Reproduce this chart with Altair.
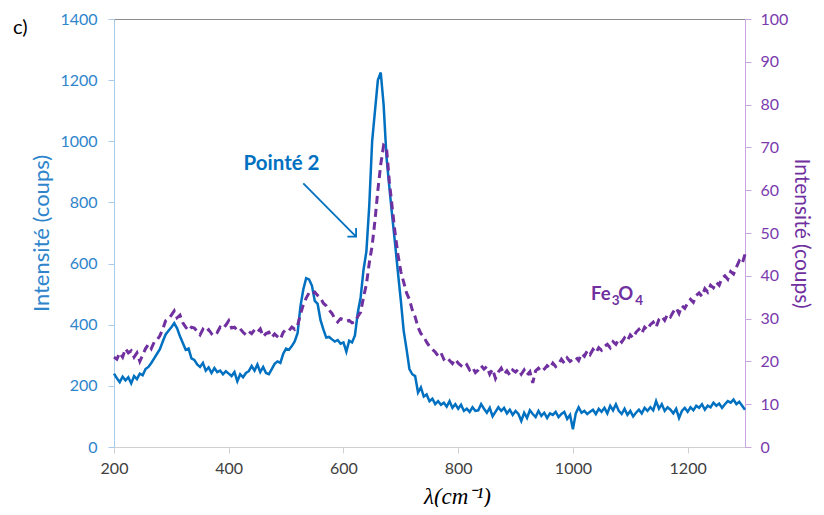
import altair as alt
import pandas as pd

# ---------------- data ----------------
wavenumber = list(range(200, 1305, 5))

pointe2 = [
    240, 225, 212, 230, 218, 228, 208, 232, 222, 240,   # 200-245
    235, 255, 262, 275, 290, 305, 320, 345, 368, 380,   # 250-295
    392, 405, 388, 362, 340, 318, 322, 290, 285, 270,   # 300-345
    262, 275, 250, 260, 242, 258, 245, 250, 238, 248,   # 350-395
    240, 232, 245, 215, 238, 228, 242, 248, 265, 250,   # 400-445
    270, 245, 262, 242, 238, 255, 272, 280, 275, 305,   # 450-495
    322, 318, 330, 345, 372, 460, 515, 552, 548, 528,   # 500-545
    478, 468, 415, 385, 358, 360, 352, 345, 350, 338,   # 550-595
    342, 312, 348, 342, 365, 440, 490, 580, 640, 790,   # 600-645
    1000, 1100, 1200, 1225, 1120, 950, 850, 755, 665, 570,  # 650-695
    480, 380, 320, 255, 238, 232, 178, 195, 165, 172,   # 700-745
    150, 158, 140, 150, 138, 145, 132, 150, 128, 140,   # 750-795
    125, 138, 118, 125, 115, 130, 118, 120, 140, 125,   # 800-845
    112, 128, 100, 115, 130, 118, 128, 110, 122, 105,   # 850-895
    118, 108, 85, 112, 95, 120, 108, 98, 118, 102,      # 900-945
    112, 95, 110, 105, 115, 98, 108, 115, 92, 105,      # 950-995
    58, 110, 130, 112, 118, 108, 115, 122, 108, 125,    # 1000-1045
    115, 128, 110, 135, 120, 140, 118, 108, 125, 105,   # 1050-1095
    118, 100, 112, 122, 110, 128, 118, 130, 120, 150,   # 1100-1145
    125, 140, 118, 130, 122, 110, 125, 95, 118, 128,    # 1150-1195
    115, 130, 120, 135, 128, 140, 122, 135, 130, 145,   # 1200-1245
    135, 142, 128, 140, 150, 145, 155, 140, 148, 135,   # 1250-1295
    122,                                                # 1300
]

fe3o4 = [
    21, 20.5, 22, 21, 23, 22, 22.5, 21, 22, 20,         # 200-245
    21.5, 23, 24, 23, 24.5, 25, 26, 27.5, 29.5, 30,     # 250-295
    30.8, 31.8, 30.2, 30.8, 29, 28, 27.2, 28, 27.8, 27,  # 300-345
    26.2, 27.5, 26.8, 27.4, 26.5, 27.2, 26.8, 28, 27.6, 28.5,  # 350-395
    29.5, 27.8, 28, 27.2, 27.6, 26.8, 26.2, 27, 26.5, 27.4,    # 400-445
    26.8, 27.6, 25.8, 26.5, 26.8, 25.6, 26.4, 25.8, 25.2, 26.8,  # 450-495
    27.5, 27.2, 28, 27.5, 28.4, 31, 33.2, 34.8, 36, 35.6,      # 500-545
    36.2, 35.4, 34.8, 33.6, 33, 32, 31.2, 30, 29.2, 30,        # 550-595
    29.8, 29.4, 29.6, 29, 29.2, 30.5, 31.5, 35, 38, 43,        # 600-645
    47, 53, 60, 66, 70.5, 70, 62, 56, 50, 45,                  # 650-695
    41, 38.5, 36, 34.5, 32, 30.4, 28, 26.5, 25.8, 24.5,        # 700-745
    23.5, 22.8, 22.2, 21.3, 22, 20.5, 21, 20.2, 19.5, 20.5,    # 750-795
    19.6, 19, 18.5, 19.2, 18, 18.6, 17.4, 18, 19, 18.2,        # 800-845
    18.8, 17, 18.2, 16, 17.5, 18.4, 17, 17.8, 16.8, 18,        # 850-895
    17.5, 18.2, 17, 18, 16.8, 17.6, 15, 17.8, 18.4, 17.6,      # 900-945
    18.2, 19, 18.4, 19.6, 18.8, 19.4, 20.5, 19.6, 20.8, 20,    # 950-995
    20.5, 21, 20.2, 21.8, 21.2, 22.5, 21.6, 22.8, 22, 23.2,    # 1000-1045
    22.6, 23.5, 24, 23.2, 24.6, 24, 25.2, 24.5, 25.5, 24.8,    # 1050-1095
    26.2, 25.5, 26.8, 27.5, 26.5, 28, 27.4, 28.6, 29.2, 28,    # 1100-1145
    29.8, 30.5, 29.6, 31, 30.4, 31.6, 32.5, 31.2, 33, 32.4,    # 1150-1195
    33.6, 34.5, 33.8, 35.4, 36, 35.2, 37, 36.2, 37.8, 37.2,    # 1200-1245
    38.5, 37.8, 39.5, 40, 39.2, 41, 40.4, 42, 43.5, 42.8,      # 1250-1295
    45,                                                        # 1300
]

x_ticks = [200, 400, 600, 800, 1000, 1200]
left_ticks = [0, 200, 400, 600, 800, 1000, 1200, 1400]
right_ticks = [0, 10, 20, 30, 40, 50, 60, 70, 80, 90, 100]

# annotations (data coordinates)
pointe_label = {"x": [492], "y": [906], "t": ["Pointé 2"]}
arrow_x = [530, 622]
arrow_y = [862, 688]
panel_label = {"x": [24], "y": [1351], "t": ["c)"]}
fe_text = ["Fe", "3", "O", "4"]
fe_x = [1031.6, 1067.6, 1079.2, 1108.5]
fe_y = [34.3, 33.2, 34.3, 33.2]
fe_fs = [18.5, 13.5, 18.5, 13.5]

# ---------------- style ----------------
BLUE = "#0070C0"
BLUE_TXT = "#2F85CB"
BLUE_AX = "#A9CBEA"
PURPLE = "#7030A0"
PURPLE_TXT = "#7A3AAE"
PURPLE_AX = "#C9A6DF"
FONT = "Lato"

df = pd.DataFrame({"x": wavenumber, "b": pointe2, "p": fe3o4})

xs = alt.Scale(domain=[200, 1300], nice=False, zero=False)
ys_left = alt.Scale(domain=[0, 1400], nice=False)
ys_right = alt.Scale(domain=[0, 100], nice=False)

x_axis = alt.Axis(
    values=x_ticks, title="λ(cm⁻¹)", grid=False, format="d", labelFlush=False,
    domainColor="#D0D0D0", tickColor="#D0D0D0", tickSize=6,
    labelColor="#404040", labelFont=FONT, labelFontSize=16, labelPadding=7,
    titleFont="Liberation Serif", titleFontStyle="italic", titleFontWeight="normal",
    titleFontSize=23, titleColor="#000000", titleX=343, titleY=56,
    titleAlign="center", titleBaseline="alphabetic",
)


def X(field):
    return alt.X(field, scale=xs, axis=x_axis)


blue_line = alt.Chart(df).mark_line(color=BLUE, strokeWidth=2.5).encode(
    x=X("x:Q"),
    y=alt.Y("b:Q", scale=ys_left, axis=alt.Axis(
        values=left_ticks, title="Intensité (coups)", grid=False, orient="left",
        format="d", labelFlush=False,
        domainColor=BLUE_AX, tickColor=BLUE_AX, tickSize=6,
        labelColor=BLUE_TXT, labelFont=FONT, labelFontSize=16, labelPadding=11,
        titleColor=BLUE_TXT, titleFont=FONT, titleFontSize=22,
        titleFontWeight="normal", titlePadding=6,
    )),
)

pointe_text = alt.Chart(pd.DataFrame(pointe_label)).mark_text(
    font=FONT, fontSize=20.5, fontWeight="bold", color=BLUE,
    align="center", baseline="alphabetic",
).encode(
    x=X("x:Q"),
    y=alt.Y("y:Q", scale=ys_left, axis=None),
    text="t:N",
)

arrow_df = pd.DataFrame({"x": arrow_x, "y": arrow_y})
arrow_line = alt.Chart(arrow_df).mark_line(color=BLUE, strokeWidth=1.8).encode(
    x=X("x:Q"),
    y=alt.Y("y:Q", scale=ys_left, axis=None),
)
arrow_head = alt.Chart(arrow_df.iloc[[1]]).mark_point(
    shape="M -1 1 L 0 0 L 1 1", filled=False, color=BLUE,
    strokeWidth=1.8, size=150, angle=135, opacity=1,
).encode(
    x=X("x:Q"),
    y=alt.Y("y:Q", scale=ys_left, axis=None),
)

panel_text = alt.Chart(pd.DataFrame(panel_label)).mark_text(
    font=FONT, fontSize=20, color="#000000", align="left", baseline="alphabetic",
).encode(
    x=X("x:Q"),
    y=alt.Y("y:Q", scale=ys_left, axis=None),
    text="t:N",
)

purple_line = alt.Chart(df).mark_line(
    color=PURPLE, strokeWidth=3, strokeDash=[8, 5],
).encode(
    x=X("x:Q"),
    y=alt.Y("p:Q", scale=ys_right, axis=alt.Axis(
        values=right_ticks, title="Intensité (coups)", grid=False, orient="right",
        format="d", labelFlush=False,
        domainColor=PURPLE_AX, tickColor=PURPLE_AX, tickSize=6,
        labelColor=PURPLE_TXT, labelFont=FONT, labelFontSize=16, labelPadding=9,
        titleColor=PURPLE, titleFont=FONT, titleFontSize=21,
        titleFontWeight="normal", titlePadding=3,
    )),
)

fe_df = pd.DataFrame({"x": fe_x, "y": fe_y, "t": fe_text, "fs": fe_fs})
fe_label = alt.Chart(fe_df).mark_text(
    font=FONT, fontWeight="bold", color=PURPLE, align="left", baseline="alphabetic",
).encode(
    x=X("x:Q"),
    y=alt.Y("y:Q", scale=ys_right, axis=None),
    text="t:N",
    size=alt.Size("fs:Q", scale=None),
)

chart = alt.layer(
    blue_line, purple_line, pointe_text, arrow_line, arrow_head, panel_text, fe_label
).resolve_scale(
    y="independent"
).properties(
    width=631, height=428,
    autosize=alt.AutoSizeParams(type="none"),
    padding={"left": 106, "top": 11, "right": 71, "bottom": 60},
    background="white",
).configure_view(stroke="#8C8C8C", strokeWidth=1)

chart.save("out.html", embed_options={"renderer": "svg", "actions": False})
